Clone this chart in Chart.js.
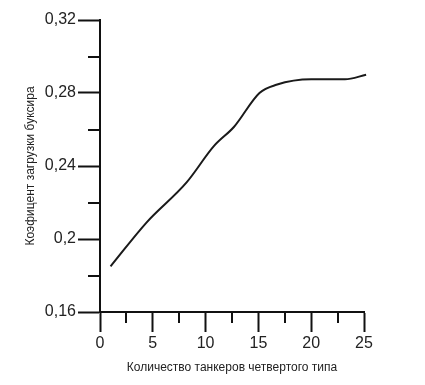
<!DOCTYPE html>
<html>
<head>
<meta charset="utf-8">
<script src="https://cdn.jsdelivr.net/npm/chart.js@4/dist/chart.umd.min.js"></script>
<style>
html,body{margin:0;padding:0;background:#fff;}
#wrap{width:425px;height:385px;position:relative;}
</style>
</head>
<body>
<div id="wrap"><canvas id="c" width="425" height="385"></canvas></div>
<script>
// Data
const tankerCounts = [1, 4.4, 8.2, 10.8, 12.7, 15.1, 16.7, 20, 23.2, 25.2];
const loadFactor   = [0.185, 0.209, 0.231, 0.251, 0.2615, 0.28, 0.2845, 0.2875, 0.2875, 0.29];
const xMajorTicks  = [0, 5, 10, 15, 20, 25];
const xMinorTicks  = [2.5, 7.5, 12.5, 17.5, 22.5];
const yMajorTicks  = [0.16, 0.20, 0.24, 0.28, 0.32];
const yMinorTicks  = [0.18, 0.22, 0.26, 0.30];
const xTitle = 'Количество танкеров четвертого типа';
const yTitle = 'Коэфицент загрузки буксира';

const FONT = 'Liberation Sans, Arial, sans-serif';

const minorTicks = {
  id: 'minorTicks',
  afterDraw(chart) {
    const ctx = chart.ctx;
    const xs = chart.scales.x, ys = chart.scales.y;
    ctx.save();
    ctx.strokeStyle = '#111';
    ctx.lineWidth = 2;
    const yb = chart.chartArea.bottom;
    xMinorTicks.forEach(v => {
      const px = Math.round(xs.getPixelForValue(v));
      ctx.beginPath(); ctx.moveTo(px, yb); ctx.lineTo(px, yb + 11); ctx.stroke();
    });
    const xl = chart.chartArea.left;
    yMinorTicks.forEach(v => {
      const py = Math.round(ys.getPixelForValue(v));
      ctx.beginPath(); ctx.moveTo(xl, py); ctx.lineTo(xl - 12, py); ctx.stroke();
    });
    ctx.restore();
  }
};

new Chart(document.getElementById('c'), {
  type: 'line',
  data: {
    datasets: [{
      data: tankerCounts.map((x, i) => ({x, y: loadFactor[i]})),
      borderColor: '#1a1a1a',
      borderWidth: 2,
      pointRadius: 0,
      fill: false,
      cubicInterpolationMode: 'monotone',
      clip: false
    }]
  },
  options: {
    responsive: false,
    animation: false,
    layout: {padding: {top: 20, right: 61, left: 0, bottom: 0}},
    plugins: {legend: {display: false}, tooltip: {enabled: false}},
    scales: {
      x: {
        type: 'linear',
        min: 0, max: 25,
        afterFit(s) { s.height = 73; },
        afterBuildTicks(s) { s.ticks = xMajorTicks.map(v => ({value: v})); },
        ticks: {
          color: '#222',
          font: {family: FONT, size: 16},
          padding: 2,
          maxRotation: 0,
          callback: v => String(v)
        },
        grid: {drawOnChartArea: false, tickLength: 20, tickWidth: 2, tickColor: '#111'},
        border: {color: '#111', width: 2},
        title: {
          display: true, text: xTitle, color: '#222',
          font: {family: FONT, size: 12},
          padding: {top: 0, bottom: 10}
        }
      },
      y: {
        type: 'linear',
        min: 0.16, max: 0.32,
        afterFit(s) { s.width = 100; },
        afterBuildTicks(s) { s.ticks = yMajorTicks.map(v => ({value: v})); },
        ticks: {
          color: '#222',
          font: {family: FONT, size: 16},
          padding: 2,
          callback: v => String(Number(v.toFixed(2))).replace('.', ',')
        },
        grid: {drawOnChartArea: false, tickLength: 22, tickWidth: 2, tickColor: '#111'},
        border: {color: '#111', width: 2},
        title: {
          display: true, text: yTitle, color: '#222',
          font: {family: FONT, size: 12},
          padding: {top: 23, bottom: 0}
        }
      }
    }
  },
  plugins: [minorTicks]
});
</script>
</body>
</html>
